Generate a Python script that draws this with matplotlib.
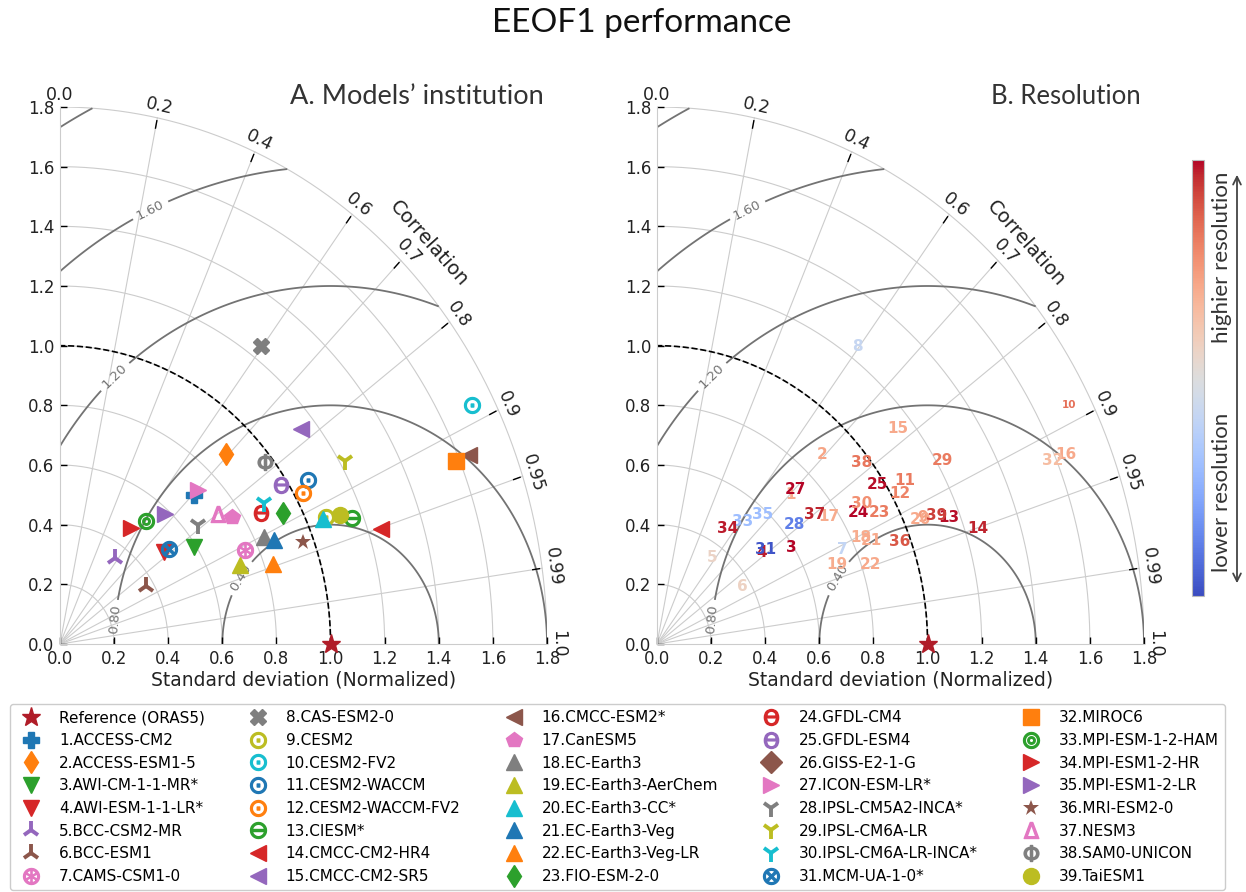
import numpy as np
import matplotlib
matplotlib.use('Agg')
import matplotlib.pyplot as plt
from matplotlib import colors
from matplotlib.cm import ScalarMappable
from matplotlib.patches import FancyArrowPatch

# CMIP6 models, normalized std and correlation of EEOF1 against ORAS5
names = ['ACCESS-CM2', 'ACCESS-ESM1-5', 'AWI-CM-1-1-MR*', 'AWI-ESM-1-1-LR*', 'BCC-CSM2-MR',
         'BCC-ESM1', 'CAMS-CSM1-0', 'CAS-ESM2-0', 'CESM2', 'CESM2-FV2', 'CESM2-WACCM',
         'CESM2-WACCM-FV2', 'CIESM*', 'CMCC-CM2-HR4', 'CMCC-CM2-SR5', 'CMCC-ESM2*', 'CanESM5',
         'EC-Earth3', 'EC-Earth3-AerChem', 'EC-Earth3-CC*', 'EC-Earth3-Veg', 'EC-Earth3-Veg-LR',
         'FIO-ESM-2-0', 'GFDL-CM4', 'GFDL-ESM4', 'GISS-E2-1-G', 'ICON-ESM-LR*', 'IPSL-CM5A2-INCA*',
         'IPSL-CM6A-LR', 'IPSL-CM6A-LR-INCA*', 'MCM-UA-1-0*', 'MIROC6', 'MPI-ESM-1-2-HAM',
         'MPI-ESM1-2-HR', 'MPI-ESM1-2-LR', 'MRI-ESM2-0', 'NESM3', 'SAM0-UNICON', 'TaiESM1']

std = [0.704, 0.883, 0.592, 0.493, 0.354, 0.371, 0.753, 1.244, 1.070, 1.720,
       1.067, 1.030, 1.158, 1.249, 1.147, 1.638, 0.766, 0.835, 0.717, 1.059,
       0.865, 0.832, 0.933, 0.864, 0.975, np.nan, 0.727, 0.647, 1.220, 0.890,
       0.512, 1.586, 0.519, 0.468, 0.584, 0.960, 0.727, 0.972, 1.121]

corr = [0.703, 0.693, 0.836, 0.781, 0.579, 0.854, 0.908, 0.597, 0.918, 0.885,
        0.858, 0.871, 0.931, 0.951, 0.777, 0.922, 0.831, 0.904, 0.929, 0.919,
        0.916, 0.947, 0.882, 0.861, 0.837, np.nan, 0.703, 0.786, 0.864, 0.848,
        0.785, 0.922, 0.611, 0.557, 0.666, 0.934, 0.802, 0.779, 0.923]

# relative horizontal resolution (0 = coarsest, 1 = finest)
res = [0.70, 0.72, 1.00, 0.98, 0.56, 0.57, 0.41, 0.42, 0.74, 0.84,
       0.82, 0.80, 0.99, 0.97, 0.71, 0.71, 0.70, 0.70, 0.70, 0.71,
       0.71, 0.71, 0.82, 1.00, 0.99, np.nan, 1.00, 0.12, 0.82, 0.77,
       0.02, 0.65, 0.30, 0.98, 0.30, 0.89, 0.97, 0.83, 0.93]

markers = ['P', 'd', 'v', 'v', '2', '2', r'$\circledast$', 'X', r'$\odot$', r'$\odot$',
           r'$\odot$', r'$\odot$', r'$\ominus$', '<', '<', '<', 'p', '^', '^', '^',
           '^', '^', 'd', r'$\Theta$', r'$\Theta$', 'D', '>', '1', '1', '1',
           r'$\otimes$', 's', r'$\circledcirc$', '>', '>', '*', r'$\Delta$', r'$\Phi$', 'o']

mcolors = ['tab:blue', 'tab:orange', 'tab:green', 'tab:red', 'tab:purple', 'tab:brown',
           'tab:pink', 'tab:gray', 'tab:olive', 'tab:cyan', 'tab:blue', 'tab:orange',
           'tab:green', 'tab:red', 'tab:purple', 'tab:brown', 'tab:pink', 'tab:gray',
           'tab:olive', 'tab:cyan', 'tab:blue', 'tab:orange', 'tab:green', 'tab:red',
           'tab:purple', 'tab:brown', 'tab:pink', 'tab:gray', 'tab:olive', 'tab:cyan',
           'tab:blue', 'tab:orange', 'tab:green', 'tab:red', 'tab:purple', 'tab:brown',
           'tab:pink', 'tab:gray', 'tab:olive']

ref_std = 1.0
smax = 1.8
corr_ticks = [0.2, 0.4, 0.6, 0.7, 0.8, 0.9, 0.95, 0.99]
rms_levels = [0.4, 0.8, 1.2, 1.6, 2.0]
ref_color = '#b01c28'
title_font = 'Lato'

plt.rcParams['font.family'] = 'DejaVu Sans'


def taylor_frame(ax, title, title_size):
    t = np.linspace(0, np.pi / 2, 300)
    # std arcs and correlation rays
    for r in np.arange(0.2, smax + 0.01, 0.2):
        ax.plot(r * np.cos(t), r * np.sin(t), color='#cccccc', lw=0.8, zorder=0.5)
    for c in corr_ticks:
        th = np.arccos(c)
        ax.plot([0, smax * np.cos(th)], [0, smax * np.sin(th)], color='#cccccc', lw=0.8, zorder=0.5)
        ax.plot([1.765 * np.cos(th), 1.79 * np.cos(th)], [1.765 * np.sin(th), 1.79 * np.sin(th)],
                color='k', lw=1, zorder=2)
    for c in [0.0] + corr_ticks + [1.0]:
        th = np.arccos(c)
        ax.text(1.84 * np.cos(th), 1.84 * np.sin(th), f'{c:g}' if c not in (0.0, 1.0) else f'{c:.1f}',
                rotation=np.degrees(th) - 90, rotation_mode='anchor', transform_rotates_text=True,
                ha='center', va='center', fontsize=12.5, color='#222222')
    ax.text(1.362, 1.342, 'Correlation', rotation=44.6 - 90, rotation_mode='anchor',
            transform_rotates_text=True, ha='center', va='center', fontsize=14, color='#222222')

    # centred RMS difference contours
    rs, ts = np.meshgrid(np.linspace(0, smax, 300), np.linspace(0, np.pi / 2, 300))
    rms = np.sqrt(ref_std ** 2 + rs ** 2 - 2 * ref_std * rs * np.cos(ts))
    cs = ax.contour(rs * np.cos(ts), rs * np.sin(ts), rms, levels=rms_levels,
                    colors='0.45', linewidths=1.3, zorder=1)
    ax.clabel(cs, levels=rms_levels[:4], inline=True, fmt='%.2f', fontsize=9.5,
              manual=[(0.662, 0.225), (0.2, 0.083), (0.2, 0.899), (0.333, 1.457)])

    ax.plot(ref_std * np.cos(t), ref_std * np.sin(t), 'k--', lw=1.2, zorder=1.5)
    ref, = ax.plot([ref_std], [0], '*', color=ref_color, ms=14, clip_on=False, zorder=10,
                   label='Reference (ORAS5)')

    ax.set_xlim(0, smax)
    ax.set_ylim(0, smax)
    ticks = np.arange(0, smax + 0.01, 0.2)
    ax.set_xticks(ticks)
    ax.set_yticks(ticks)
    ax.set_xticklabels([f'{v:.1f}' for v in ticks])
    ax.set_yticklabels([f'{v:.1f}' for v in ticks])
    ax.tick_params(direction='in', length=5, width=1, color='k', labelsize=12,
                   labelcolor='#222222', pad=4)
    for s in ['top', 'right']:
        ax.spines[s].set_visible(False)
    for s in ['left', 'bottom']:
        ax.spines[s].set_color('#cccccc')
        ax.spines[s].set_linewidth(0.8)
    ax.set_xlabel('Standard deviation (Normalized)', fontsize=13.5, color='#222222', labelpad=2)
    ax.text(0.994, 1.019, title, transform=ax.transAxes, ha='right', va='center',
            fontsize=title_size, family=title_font, color='#333333')
    return ref


fig = plt.figure(figsize=(12.46, 8.92), dpi=100)
axA = fig.add_axes([60 / 1246, 248 / 892, 487 / 1246, 537 / 892])
axB = fig.add_axes([657 / 1246, 248 / 892, 487 / 1246, 537 / 892])

fig.text(642 / 1246, 1 - 23 / 892, 'EEOF1 performance', ha='center', va='center',
         fontsize=24, family=title_font, color='#111111')

# A: one marker per model
ref = taylor_frame(axA, 'A. Models\u2019 institution', 19.5)
handles = [ref]
labels = ['Reference (ORAS5)']
for i, name in enumerate(names):
    th = np.arccos(corr[i])
    m = markers[i]
    kw = dict(ms=11.5, mew=1)
    if m in ('1', '2'):
        kw = dict(ms=13, mew=2.8)
    elif m.startswith('$'):
        kw = dict(ms=11.5, mew=1.0)
    elif m == '*':
        kw = dict(ms=12, mew=0)
    h, = axA.plot([std[i] * np.cos(th)], [std[i] * np.sin(th)], ls='none', marker=m,
                  color=mcolors[i], mec=mcolors[i], zorder=3, **kw)
    handles.append(h)
    labels.append(f'{i + 1}.{name}')

# B: model numbers coloured by resolution
taylor_frame(axB, 'B. Resolution', 18.5)
cmap = plt.get_cmap('coolwarm')
for i in range(len(names)):
    if np.isnan(std[i]):
        continue
    th = np.arccos(corr[i])
    axB.text(std[i] * np.cos(th), std[i] * np.sin(th), str(i + 1), color=cmap(res[i]),
             fontsize=7.5 if i + 1 == 10 else 11, fontweight='bold',
             ha='center', va='center', zorder=3)

cax = fig.add_axes([1192 / 1246, (892 - 596) / 892, 12 / 1246, 436 / 892])
cb = fig.colorbar(ScalarMappable(norm=colors.Normalize(0, 1), cmap=cmap), cax=cax)
cb.set_ticks([])
cb.outline.set_edgecolor('#bbbbbb')

xa = 1237 / 1246
fig.add_artist(FancyArrowPatch((xa, 1 - 586 / 892), (xa, 1 - 172 / 892), arrowstyle='<->',
                               mutation_scale=14, transform=fig.transFigure, color='#444444', lw=1.3))
fig.text(1222 / 1246, 1 - 172 / 892, 'highier resolution', rotation=90, ha='center', va='top',
         fontsize=16, family=title_font, color='#333333')
fig.text(1222 / 1246, 1 - 572 / 892, 'lower resolution', rotation=90, ha='center', va='bottom',
         fontsize=16, family=title_font, color='#333333')

fig.legend(handles, labels, ncol=5, loc='lower left', mode='expand',
           bbox_to_anchor=(10 / 1246, 2 / 892, 1215 / 1246, 200 / 892), fontsize=11,
           frameon=True, edgecolor='#cccccc', framealpha=1, handlelength=2.0,
           handletextpad=0.8, labelspacing=0.5, borderaxespad=0, borderpad=0.4)

fig.savefig('out.png', dpi=100)
